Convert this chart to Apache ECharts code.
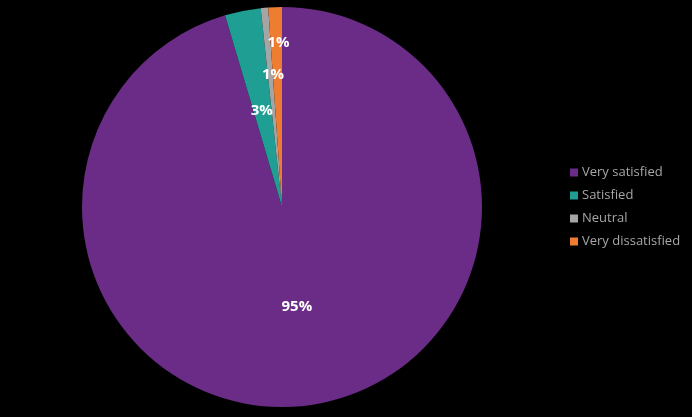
<!DOCTYPE html>
<html>
<head>
<meta charset="utf-8">
<script src="https://cdn.jsdelivr.net/npm/echarts@6/dist/echarts.min.js"></script>
<style>
html,body{margin:0;padding:0;background:#000;}
#chart{width:692px;height:417px;}
</style>
</head>
<body>
<div id="chart"></div>
<script>
var categories = ['Very satisfied', 'Satisfied', 'Neutral', 'Very dissatisfied'];
var values = [95.4, 2.9, 0.6, 1.1];
var colors = ['#6a2c86', '#1f9e94', '#a5a5a5', '#ee7d31'];
var labelShift = [-2, 5, -30, -61];

var chart = echarts.init(document.getElementById('chart'));
chart.setOption({
  backgroundColor: '#000',
  animation: false,
  legend: {
    orient: 'vertical',
    left: 565,
    top: 161,
    itemWidth: 8,
    itemHeight: 8,
    itemGap: 10,
    icon: 'rect',
    textStyle: { color: '#a6a6a6', fontSize: 13, fontFamily: 'Open Sans', padding: [0, 0, 0, -1] },
    data: categories
  },
  series: [{
    type: 'pie',
    center: [282, 207],
    radius: [0, 200],
    startAngle: 90,
    clockwise: true,
    percentPrecision: 1,
    data: categories.map(function (c, i) {
      return { name: c, value: values[i], itemStyle: { color: colors[i] } };
    }),
    label: {
      position: 'inside',
      color: '#fff',
      fontWeight: 'bold',
      fontSize: 15,
      fontFamily: 'Open Sans',
      formatter: function (p) { return Math.round(p.percent) + '%'; }
    },
    labelLayout: function (p) {
      return { dy: labelShift[p.dataIndex] };
    },
    labelLine: { show: false },
    emphasis: { disabled: true }
  }]
});
</script>
</body>
</html>
